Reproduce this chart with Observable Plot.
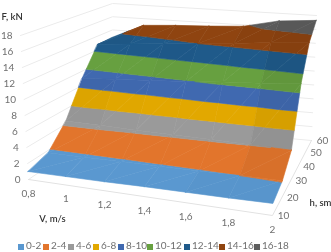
<!DOCTYPE html>
<html><head><meta charset="utf-8">
<script src="https://cdn.jsdelivr.net/npm/d3@7"></script>
<script src="https://cdn.jsdelivr.net/npm/@observablehq/plot@0.6"></script>
<style>
html,body{margin:0;padding:0;background:#fff;overflow:hidden}
#chart svg{display:block;filter:blur(.5px)}
#legend{position:absolute;left:0;top:238px;width:331px;height:14px;font:10px Lato,sans-serif;color:#707070;filter:blur(.35px)}
#legend span{position:absolute;top:1px;white-space:nowrap}
#legend i{display:inline-block;width:6px;height:6px;margin-right:2px;vertical-align:-.5px}
</style></head><body>
<div id="chart"></div><div id="legend"></div>
<script>
// values
const speeds = [0.8, 1, 1.2, 1.4, 1.6, 1.8, 2];
const heights = [10, 20, 30, 40, 50, 60];
const forceH10 = [1, 1.05, 1.1, 1.2, 1.25, 1.3, 1.4];
const forceH20 = [1.7, 1.75, 1.8, 1.85, 1.9, 2, 2.05];
const forceH30 = [4.4, 4.35, 4.25, 4.2, 4.15, 4.05, 3.95];
const forceH40 = [9, 9.3, 9.6, 9.9, 10.3, 10.6, 11];
const forceH50 = [12.8, 13.2, 13.6, 14, 14.4, 14.9, 15.3];
const forceH60 = [12.9, 15, 15.3, 15.5, 15.8, 16.9, 17.3];
const forces = [forceH10, forceH20, forceH30, forceH40, forceH50, forceH60];
const forceTicks = [0, 2, 4, 6, 8, 10, 12, 14, 16, 18];
const speedTickLabels = ["0,8", "1", "1,2", "1,4", "1,6", "1,8", "2"];
const bandLabels = ["0-2", "2-4", "4-6", "6-8", "8-10", "10-12", "12-14", "14-16", "16-18"];
const bandColors = ["#5a98d0", "#e2752c", "#9a9a9a", "#e2a800", "#4069b0", "#67a040", "#1f5a8a", "#8f4410", "#5e5e5e"];
// darkening of each grid cell (rows h10..h50, columns V0.8..V1.8)
const shade = [
  [0, 0, 0, 0, .02, .02],
  [0, 0, 0, 0, 0, .05],
  [.03, .01, 0, 0, 0, .06],
  [0, 0, .02, 0, 0, .07],
  [.04, 0, 0, 0, .05, .08]
];

// view of the box
const view = {
  floor: {a: [28, 179], b: [272, 215], c: [311, 140], d: [112, 122]},
  top: {a: [20, 35], b: [277, 60], c: [316, 15], d: [112, 3]},
  bV: -0.095, bH: 0.26, fMax: 18
};
const W = 331, H = 236;
const lerp = (p, q, t) => p + (q - p) * t;
const warp = (s, b) => s * (1 + b) / (1 + b * s);
function project(v, h, f) {
  const u = warp((v - 0.8) / 1.2, view.bV), t = warp((h - 10) / 50, view.bH);
  const at = (q, i) => lerp(lerp(q.a[i], q.b[i], u), lerp(q.d[i], q.c[i], u), t);
  const k = f / view.fMax;
  return [lerp(at(view.floor, 0), at(view.top, 0), k), lerp(at(view.floor, 1), at(view.top, 1), k)];
}

// clip a triangle to a force band
function clip(poly, test, level) {
  const out = [];
  poly.forEach((p, i) => {
    const q = poly[(i + 1) % poly.length], pin = test(p[2]), qin = test(q[2]);
    if (pin) out.push(p);
    if (pin !== qin) {
      const k = (level - p[2]) / (q[2] - p[2]);
      out.push([lerp(p[0], q[0], k), lerp(p[1], q[1], k), level]);
    }
  });
  return out;
}
const facets = [];
let id = 0;
for (let r = heights.length - 2; r >= 0; r--) {
  for (let c = 0; c < speeds.length - 1; c++) {
    const P = (i, j) => [speeds[j], heights[i], forces[i][j]];
    const tris = [[P(r + 1, c), P(r + 1, c + 1), P(r, c)], [P(r + 1, c + 1), P(r, c + 1), P(r, c)]];
    for (const tri of tris) {
      bandColors.forEach((col, b) => {
        const lo = b * 2, hi = lo + 2;
        let poly = clip(tri, f => f >= lo, lo);
        if (poly.length) poly = clip(poly, f => f <= hi, hi);
        if (poly.length < 3) return;
        const fill = d3.color(col).darker(shade[r][c] * 2.5).formatHex();
        id++;
        poly.forEach(p => {
          const [x, y] = project(...p);
          facets.push({x, y, id, fill});
        });
      });
    }
  }
}

// grid
const grid = [];
forceTicks.forEach(f => {
  [[0.8, 10], [0.8, 60], [2, 60]].forEach(([v, h]) => {
    const [x, y] = project(v, h, f);
    grid.push({x, y, f});
  });
});
const pt = (v, h, f) => { const [x, y] = project(v, h, f); return {x, y}; };
const floorFront = [pt(0.8, 10, 0), pt(2, 10, 0), pt(2, 60, 0)];
const fLabels = forceTicks.map(f => ({...pt(0.8, 10, f), t: String(f)}));
const vLabels = speeds.map((v, i) => ({...pt(v, 10, 0), t: speedTickLabels[i]}));
const hLabels = heights.map(h => ({...pt(2, h, 0), t: String(h)}));
const textStyle = {fontFamily: "Lato, sans-serif", fontSize: 10, fill: "#707070"};
const titleStyle = {fontFamily: "Lato, sans-serif", fontSize: 9.5, fontWeight: 600, fill: "#333"};

const chart = Plot.plot({
  width: W, height: H, margin: 0,
  x: {domain: [0, W], range: [0, W], axis: null},
  y: {domain: [0, H], range: [0, H], axis: null},
  marks: [
    Plot.line(grid, {x: "x", y: "y", z: "f", stroke: "#ebebeb", strokeWidth: 1}),
    Plot.line(floorFront, {x: "x", y: "y", stroke: "#e2e2e2", strokeWidth: 1}),
    Plot.line(facets, {x: "x", y: "y", z: "id", fill: d => d.fill, stroke: d => d.fill, strokeWidth: .6, curve: "linear-closed"}),
    Plot.text(fLabels, {x: "x", y: "y", text: "t", dx: -8, textAnchor: "end", ...textStyle}),
    Plot.text(vLabels, {x: "x", y: "y", text: "t", dy: 14, ...textStyle}),
    Plot.text(hLabels, {x: "x", y: "y", text: "t", dx: 11, ...textStyle}),
    Plot.text([{x: pt(0.8, 10, 18).x, y: pt(0.8, 10, 18).y, t: "F, kN"}], {x: "x", y: "y", text: "t", dx: -19, dy: -19, textAnchor: "start", ...titleStyle}),
    Plot.text([{x: pt(0.8, 10, 0).x, y: pt(0.8, 10, 0).y, t: "V, m/s"}], {x: "x", y: "y", text: "t", dx: 24, dy: 39, ...titleStyle}),
    Plot.text([{x: pt(2, 10, 0).x, y: pt(2, 10, 0).y, t: "h, sm"}], {x: "x", y: "y", text: "t", dx: 48, dy: -13, ...titleStyle})
  ]
});
document.getElementById("chart").append(chart);

const legendX = [18, 43, 68, 93, 118, 147, 184, 219, 254];
const legend = document.getElementById("legend");
bandLabels.forEach((label, i) => {
  const s = document.createElement("span");
  s.style.left = legendX[i] + "px";
  const sw = document.createElement("i");
  sw.style.background = bandColors[i];
  s.append(sw, label);
  legend.append(s);
});
</script>
</body></html>
